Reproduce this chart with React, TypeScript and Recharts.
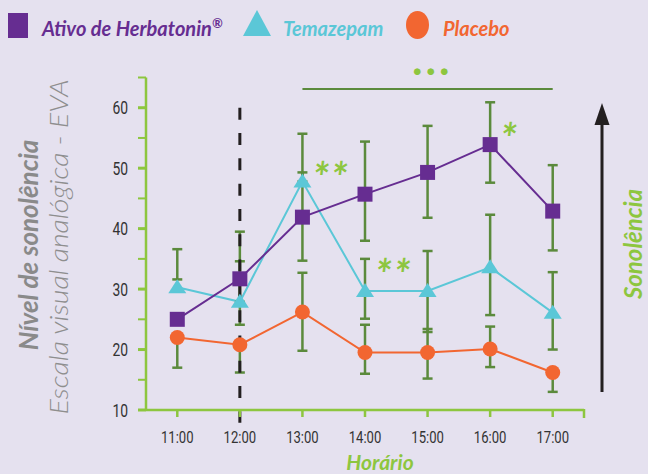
import { LineChart, Line, XAxis, YAxis, ErrorBar, ReferenceLine, ReferenceDot } from "recharts";

// horário
const times = ["11:00", "12:00", "13:00", "14:00", "15:00", "16:00", "17:00"];

// nível de sonolência (EVA), médias
const herbatonin = [25.0, 31.7, 41.9, 45.7, 49.3, 53.9, 42.9];
const temazepam = [30.3, 27.9, 47.8, 29.7, 29.7, 33.6, 26.1];
const placebo = [22.0, 20.8, 26.2, 19.5, 19.5, 20.1, 16.2];

// extremos das barras de erro, como aparecem no gráfico
const herbLow = [25.0, 24.1, 34.7, 38.0, 41.8, 47.6, 36.4];
const herbHigh = [25.0, 39.5, 49.3, 54.4, 57.0, 60.9, 50.5];
const temaLow = [31.6, 27.9, 47.8, 25.1, 22.9, 25.7, 20.0];
const temaHigh = [36.6, 34.6, 55.7, 35.0, 36.3, 42.3, 32.8];
const placLow = [17.0, 16.2, 19.8, 16.0, 15.2, 17.1, 13.0];
const placHigh = [22.0, 20.8, 32.7, 24.1, 23.4, 23.8, 16.2];

const yTicks = [10, 15, 20, 25, 30, 35, 40, 45, 50, 55, 60, 65];

// significância
const stars = [
  { time: "13:00", value: 50.0, text: "**" },
  { time: "14:00", value: 34.0, text: "**" },
  { time: "16:00", value: 56.5, text: "*" },
];
const sigFrom = "13:00";
const sigTo = "17:00";
const sigLevel = 63.1;
const doseTime = "12:00";
const doseTop = 60;
const doseBottom = 7.9;

const BG = "#e5e1ef";
const PURPLE = "#662d91";
const CYAN = "#5bc7d7";
const ORANGE = "#f26631";
const ERR = "#5b8a3c";
const GREEN = "#8dc63f";
const BLACK = "#231f20";
const FONT = "Lato, 'Open Sans', sans-serif";

const data = times.map((time, i) => ({
  time,
  herbatonin: herbatonin[i],
  temazepam: temazepam[i],
  placebo: placebo[i],
  herbErr: [herbatonin[i] - herbLow[i], herbHigh[i] - herbatonin[i]],
  temaErr: [temazepam[i] - temaLow[i], temaHigh[i] - temazepam[i]],
  placErr: [placebo[i] - placLow[i], placHigh[i] - placebo[i]],
}));

const SquareDot = (p: any) => (
  <rect key={`sq-${p.index}`} x={p.cx - 7.5} y={p.cy - 7.5} width={15} height={15} fill={PURPLE} />
);
const TriangleDot = (p: any) => (
  <polygon
    key={`tr-${p.index}`}
    points={`${p.cx},${p.cy - 8} ${p.cx - 9},${p.cy + 6} ${p.cx + 9},${p.cy + 6}`}
    fill={CYAN}
  />
);
const CircleDot = (p: any) => <circle key={`ci-${p.index}`} cx={p.cx} cy={p.cy} r={7.5} fill={ORANGE} />;

const YTick = ({ x, y, payload }: any) => {
  const major = payload.value % 10 === 0;
  return (
    <g>
      <line x1={x + 10} x2={x + 18} y1={y} y2={y} stroke={GREEN} strokeWidth={major ? 3 : 2} />
      {major && (
        <g transform={`translate(${x}, ${y}) scale(0.77, 1)`}>
          <text x={0} y={0} dy={6.5} textAnchor="end" fontSize={18} fill="#333" fontFamily="Roboto, sans-serif">
            {payload.value}
          </text>
        </g>
      )}
    </g>
  );
};

const XTick = ({ x, y, payload }: any) => (
  <g transform={`translate(${x}, ${y}) scale(0.77, 1)`}>
    <text x={0} y={24} textAnchor="middle" fontSize={17} fill="#333" fontFamily="Roboto, sans-serif">
      {payload.value}
    </text>
  </g>
);

const StarLabel = (text: string) => (props: any) => {
  const vb = props.viewBox || {};
  return (
    <text
      x={vb.x + 10}
      y={vb.y + 25}
      fontSize={42}
      fontWeight={700}
      fontStyle="italic"
      letterSpacing={2}
      fill={GREEN}
      fontFamily={FONT}
    >
      {text}
    </text>
  );
};

const DotsLabel = (props: any) => {
  const vb = props.viewBox || {};
  return (
    <text
      x={vb.x + vb.width / 2 + 6}
      y={vb.y - 14}
      textAnchor="middle"
      fontSize={44}
      fontWeight={700}
      fontStyle="italic"
      letterSpacing={3}
      fill={GREEN}
      fontFamily={FONT}
    >
      ...
    </text>
  );
};

export default function App() {
  return (
    <div style={{ position: "absolute", left: 0, top: 0, width: 648, height: 474, background: BG, overflow: "hidden" }}>
      <LineChart width={648} height={474} data={data} margin={{ top: 77.5, right: 64, bottom: 34, left: 0 }}>
        <XAxis
          dataKey="time"
          scale="band"
          height={30}
          axisLine={{ stroke: GREEN, strokeWidth: 2.5 }}
          tickLine={{ stroke: GREEN, strokeWidth: 2.5 }}
          tickSize={7}
          tickMargin={2}
          tick={<XTick />}
          interval={0}
        />
        <YAxis
          type="number"
          domain={[10, 65]}
          ticks={yTicks}
          interval={0}
          width={146}
          axisLine={{ stroke: GREEN, strokeWidth: 2.5 }}
          tickLine={false}
          tickSize={8}
          tickMargin={10}
          tick={<YTick />}
        />
        <Line dataKey="temazepam" stroke={CYAN} strokeWidth={2} dot={<TriangleDot />} activeDot={false} isAnimationActive={false} />
        <Line dataKey="temazepam" stroke="none" dot={false} activeDot={false} isAnimationActive={false}>
          <ErrorBar dataKey="temaErr" width={5} strokeWidth={2.5} stroke={ERR} isAnimationActive={false} />
        </Line>
        <Line dataKey="herbatonin" stroke="none" dot={false} activeDot={false} isAnimationActive={false}>
          <ErrorBar dataKey="herbErr" width={5} strokeWidth={2.5} stroke={ERR} isAnimationActive={false} />
        </Line>
        <Line dataKey="placebo" stroke="none" dot={false} activeDot={false} isAnimationActive={false}>
          <ErrorBar dataKey="placErr" width={5} strokeWidth={2.5} stroke={ERR} isAnimationActive={false} />
        </Line>
        <Line dataKey="herbatonin" stroke={PURPLE} strokeWidth={2} dot={<SquareDot />} activeDot={false} isAnimationActive={false} />
        <Line dataKey="placebo" stroke={ORANGE} strokeWidth={2} dot={<CircleDot />} activeDot={false} isAnimationActive={false} />
        <ReferenceLine
          segment={[{ x: doseTime, y: doseTop }, { x: doseTime, y: doseBottom }]}
          stroke={BLACK}
          strokeWidth={3}
          strokeDasharray="12 13.3"
          ifOverflow="visible"
        />
        <ReferenceLine
          segment={[{ x: sigFrom, y: sigLevel }, { x: sigTo, y: sigLevel }]}
          stroke={ERR}
          strokeWidth={2}
          ifOverflow="visible"
          label={DotsLabel}
        />
        {stars.map((s) => (
          <ReferenceDot
            key={s.time}
            x={s.time}
            y={s.value}
            r={0}
            fill="none"
            stroke="none"
            ifOverflow="visible"
            label={StarLabel(s.text)}
          />
        ))}
      </LineChart>
      <svg width={648} height={474} style={{ position: "absolute", left: 0, top: 0, pointerEvents: "none" }} fontFamily={FONT}>
        <rect x={8} y={13} width={20} height={25} fill={PURPLE} />
        <text x={42} y={36} fontSize={20} fontWeight={700} fontStyle="italic" fill={PURPLE}>
          Ativo de Herbatonin
          <tspan fontSize={13} dy={-8}>®</tspan>
        </text>
        <polygon points="257,10 243,36 271,36" fill={CYAN} />
        <text x={283} y={36} fontSize={20} fontWeight={700} fontStyle="italic" fill={CYAN}>
          Temazepam
        </text>
        <ellipse cx={417.5} cy={25} rx={11.5} ry={14} fill={ORANGE} />
        <text x={443} y={36} fontSize={20} fontWeight={700} fontStyle="italic" fill={ORANGE}>
          Placebo
        </text>

        <text transform="translate(38, 245) rotate(-90)" textAnchor="middle" fontSize={26} fontWeight={700} fontStyle="italic" fill="#8a8a8a">
          Nível de sonolência
        </text>
        <text
          transform="translate(68, 247) rotate(-90)"
          textAnchor="middle"
          fontSize={26}
          fontWeight={300}
          fontStyle="italic"
          fill="#8e8e8e"
          textLength={335}
          lengthAdjust="spacingAndGlyphs"
        >
          Escala visual analógica - EVA
        </text>
        <text x={380} y={469.5} textAnchor="middle" fontSize={21} fontWeight={700} fontStyle="italic" fill={GREEN}>
          Horário
        </text>

        <line x1={584} y1={409} x2={584} y2={418} stroke={GREEN} strokeWidth={2.5} />
        <line x1={602} y1={392} x2={602} y2={120} stroke={BLACK} strokeWidth={3} />
        <polygon points="602,103 594.5,125 609.5,125" fill={BLACK} />
        <text transform="translate(642, 244) rotate(-90)" textAnchor="middle" fontSize={24} fontWeight={700} fontStyle="italic" fill={GREEN}>
          Sonolência
        </text>
      </svg>
    </div>
  );
}
